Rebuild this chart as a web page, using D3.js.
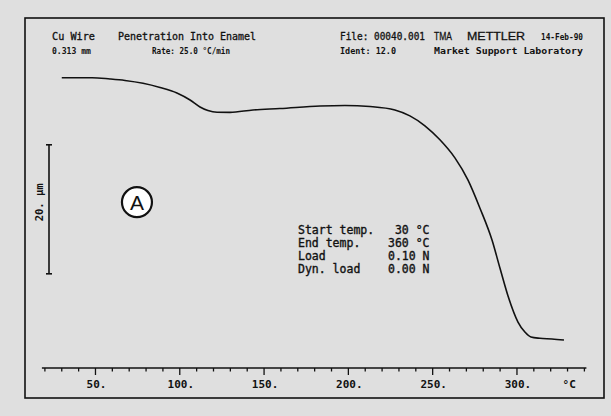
<!DOCTYPE html>
<html>
<head>
<meta charset="utf-8">
<script src="https://cdn.jsdelivr.net/npm/d3@7"></script>
<style>
  html, body { margin: 0; padding: 0; background: #dfdfdf; }
  svg { display: block; }
  text { white-space: pre; }
</style>
</head>
<body>
<svg id="chart" width="611" height="416"></svg>
<script>
// ---- data (temperature in °C, displacement in µm relative to start) ----
const temperature = [30, 38, 48, 58.6, 67.5, 78.2, 88.3, 98.3, 106.1, 112.0, 116.7, 122.1, 129.8, 143.4, 159.4, 183.2, 198.0, 212.8, 227.6, 236.5, 245.4, 254.3, 263.2, 270.9, 278.0, 285.2, 289.9, 294.7, 300.6, 304.7, 308.3, 313.6, 320.8, 327.9];
const displacement = [0, 0, 0, -0.2, -0.43, -0.87, -1.52, -2.37, -3.46, -4.54, -5.09, -5.36, -5.38, -5.0, -4.78, -4.39, -4.31, -4.47, -5.0, -5.92, -7.46, -9.63, -12.43, -15.84, -20.19, -25.16, -29.5, -33.84, -37.88, -39.43, -40.2, -40.4, -40.5, -40.67];
const majorTicks = [50, 100, 150, 200, 250, 300];
const majorTickLabels = ["50.", "100.", "150.", "200.", "250.", "300."];
const minorTicks = d3.range(20, 341, 10);
const unitLabel = "°C";
const scaleBar = { top: -10.4, length: 20, label: "20. µm" };
const headerRow1 = [
  { text: "Cu Wire", x: 52, w: 43 },
  { text: "Penetration Into Enamel", x: 118, w: 138 },
  { text: "File: 00040.001", x: 340, w: 85 },
  { text: "TMA", x: 434, w: 18, sans: true },
  { text: "METTLER", x: 467, w: 58, sans: true },
  { text: "14-Feb-90", x: 541, w: 42, small: true }
];
const headerRow2 = [
  { text: "0.313 mm", x: 52, w: 39 },
  { text: "Rate: 25.0 °C/min", x: 152, w: 78 },
  { text: "Ident: 12.0", x: 340, w: 56 },
  { text: "Market Support Laboratory", x: 434, w: 149 }
];
const infoLines = [
  "Start temp.   30 °C",
  "End temp.    360 °C",
  "Load         0.10 N",
  "Dyn. load    0.00 N"
];
const annotation = { label: "A", t: 74.6, d: -19.3 };

// ---- scales ----
const x = d3.scaleLinear().domain([20, 340]).range([44.9, 584.4]);
const y = d3.scaleLinear().domain([-45, 5]).range([368, 45.45]);

const svg = d3.select("#chart");
const mono = "'DejaVu Sans Mono', 'Liberation Mono', monospace";

// frame
svg.append("rect").attr("x", 25).attr("y", 18).attr("width", 579).attr("height", 380)
  .attr("fill", "none").attr("stroke", "#111").attr("stroke-width", 1.6);

// header
headerRow1.forEach(h => {
  svg.append("text").attr("x", h.x).attr("y", 40)
    .attr("font-family", h.sans ? "'Liberation Sans', Arial, sans-serif" : mono)
    .attr("font-size", h.sans ? 11 : (h.small ? 8.5 : 10))
    .attr("font-weight", h.small ? "bold" : "normal")
    .attr("fill", "#111").attr("stroke", "#111").attr("stroke-width", h.small ? 0 : 0.3)
    .attr("textLength", h.w).attr("lengthAdjust", "spacingAndGlyphs")
    .text(h.text);
});
headerRow2.forEach(h => {
  svg.append("text").attr("x", h.x).attr("y", 54)
    .attr("font-family", mono)
    .attr("font-size", 8.5).attr("font-weight", "bold")
    .attr("fill", "#111")
    .attr("textLength", h.w).attr("lengthAdjust", "spacingAndGlyphs")
    .text(h.text);
});

// curve
const pts = temperature.map((t, i) => [t, displacement[i]]);
const line = d3.line().x(d => x(d[0])).y(d => y(d[1])).curve(d3.curveMonotoneX);
svg.append("path").datum(pts).attr("d", line)
  .attr("fill", "none").attr("stroke", "#111").attr("stroke-width", 1.6);

// x axis
const axisY = y(-45);
svg.append("line").attr("x1", x(20) - 3).attr("x2", x(340) + 2)
  .attr("y1", axisY).attr("y2", axisY).attr("stroke", "#111").attr("stroke-width", 1.6);
svg.selectAll(".minor").data(minorTicks).enter().append("line")
  .attr("x1", d => x(d)).attr("x2", d => x(d))
  .attr("y1", axisY).attr("y2", d => axisY + (majorTicks.includes(d) ? 7 : 3.5))
  .attr("stroke", "#111").attr("stroke-width", 1.3);
svg.selectAll(".lbl").data(majorTicks).enter().append("text")
  .attr("x", d => x(d) + 1).attr("y", 388)
  .attr("text-anchor", "middle")
  .attr("font-family", mono).attr("font-size", 11).attr("font-weight", "bold")
  .attr("fill", "#111")
  .text((d, i) => majorTickLabels[i]);
svg.append("text").attr("x", x(331)).attr("y", 388).attr("text-anchor", "middle")
  .attr("font-family", mono).attr("font-size", 11).attr("font-weight", "bold")
  .attr("fill", "#111").text(unitLabel);

// scale bar
const sbX = 49;
const sbTop = y(scaleBar.top), sbBot = y(scaleBar.top - scaleBar.length);
svg.append("line").attr("x1", sbX).attr("x2", sbX).attr("y1", sbTop).attr("y2", sbBot)
  .attr("stroke", "#111").attr("stroke-width", 1.6);
[sbTop, sbBot].forEach(v => svg.append("line").attr("x1", sbX - 3).attr("x2", sbX + 3)
  .attr("y1", v).attr("y2", v).attr("stroke", "#111").attr("stroke-width", 1.6));
svg.append("text").attr("transform", `translate(42.5, ${(sbTop + sbBot) / 2 - 7}) rotate(-90)`)
  .attr("text-anchor", "middle")
  .attr("font-family", mono).attr("font-size", 10.5).attr("font-weight", "bold")
  .attr("fill", "#111").text(scaleBar.label);

// annotation circle
const ax = x(annotation.t), ay = y(annotation.d);
svg.append("circle").attr("cx", ax).attr("cy", ay).attr("r", 15)
  .attr("fill", "#fff").attr("stroke", "#111").attr("stroke-width", 2.2);
svg.append("text").attr("x", ax).attr("y", ay + 7.5).attr("text-anchor", "middle")
  .attr("font-family", "'Liberation Sans Narrow', 'Liberation Sans', Arial, sans-serif")
  .attr("font-size", 21).attr("fill", "#111").text(annotation.label);

// info block
infoLines.forEach((s, i) => {
  svg.append("text").attr("x", 298).attr("y", 234 + i * 13)
    .attr("font-family", mono).attr("font-size", 11.5)
    .attr("fill", "#111").attr("stroke", "#111").attr("stroke-width", 0.35)
    .attr("xml:space", "preserve").text(s);
});
</script>
</body>
</html>
